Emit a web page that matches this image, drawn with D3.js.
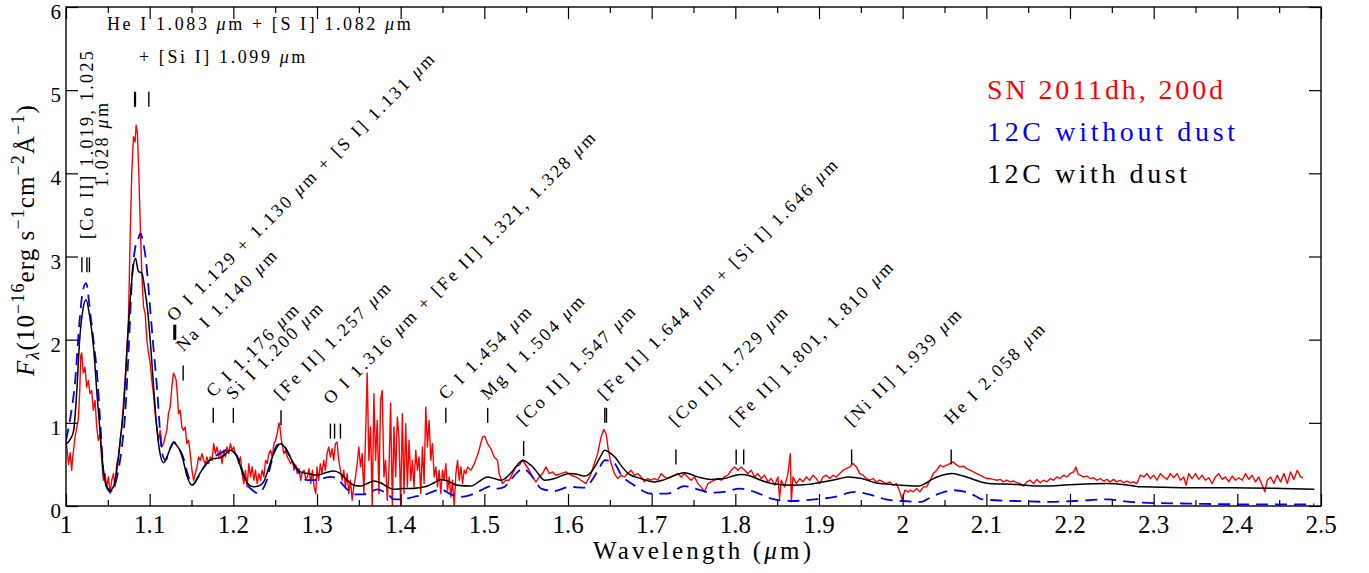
<!DOCTYPE html>
<html><head><meta charset="utf-8">
<script src="https://cdn.jsdelivr.net/npm/d3@7"></script>
<style>body{margin:0;background:#fff}svg{display:block}text{font-family:"Liberation Serif","Times New Roman",serif}</style>
</head><body><svg id="chart" width="1369" height="573"></svg>
<script>
// ---------------- data ----------------
const seriesNames = ["SN 2011dh, 200d", "12C without dust", "12C with dust"];

// SN 2011dh observed spectrum [wavelength (um), flux]
const observedSpectrum = [
[1.000,0.78],[1.002,0.62],[1.003,0.50],[1.005,0.64],[1.0068,0.43],[1.008,0.58],[1.0095,0.72],[1.0108,0.83],[1.013,0.95],[1.0148,1.05],[1.0165,1.40],[1.0176,1.80],[1.0188,1.84],[1.0207,1.60],[1.0227,1.67],[1.0247,1.43],[1.0267,1.51],[1.0287,1.35],[1.0307,1.39],[1.0327,1.15],[1.0347,1.27],[1.0367,0.95],[1.0387,0.79],[1.0407,0.87],[1.0427,0.55],[1.0447,0.31],[1.0467,0.39],[1.0487,0.23],[1.0507,0.35],[1.0527,0.15],[1.0547,0.31],[1.0567,0.39],[1.0587,0.23],[1.0607,0.51],[1.0626,0.59],[1.0646,0.79],[1.0666,0.95],[1.0686,1.23],[1.0706,1.51],[1.0726,1.84],[1.0746,2.24],[1.0766,3.20],[1.0786,4.00],[1.0806,4.44],[1.0826,4.38],[1.0838,4.58],[1.0854,4.48],[1.0870,4.00],[1.0886,3.44],[1.0906,2.80],[1.0926,2.40],[1.0946,2.32],[1.0966,2.00],[1.0986,1.84],[1.1006,1.72],[1.1025,1.51],[1.1045,1.35],[1.1065,1.11],[1.1085,0.95],[1.1105,0.79],[1.1125,0.91],[1.1145,0.71],[1.1165,0.75],[1.1185,0.83],[1.1205,0.91],[1.1225,1.11],[1.1245,1.19],[1.1265,1.43],[1.1285,1.60],[1.1305,1.55],[1.1317,1.51],[1.1333,1.31],[1.1345,1.11],[1.1365,1.15],[1.1385,0.95],[1.1405,0.91],[1.1425,0.95],[1.1445,0.75],[1.1465,0.79],[1.1485,0.63],[1.1505,0.43],[1.1525,0.31],[1.1545,0.39],[1.1565,0.47],[1.1585,0.59],[1.1605,0.55],[1.1625,0.63],[1.1645,0.55],[1.1665,0.51],[1.1685,0.59],[1.1705,0.51],[1.1725,0.59],[1.1745,0.55],[1.1765,0.75],[1.1785,0.63],[1.1805,0.71],[1.1825,0.59],[1.1845,0.67],[1.1865,0.51],[1.1885,0.67],[1.1905,0.59],[1.1925,0.71],[1.1945,0.63],[1.1965,0.75],[1.1985,0.67],[1.2005,0.71],[1.2025,0.63],[1.2045,0.59],[1.2065,0.51],[1.2085,0.59],[1.2105,0.39],[1.2125,0.27],[1.2145,0.43],[1.2165,0.23],[1.2185,0.51],[1.2205,0.35],[1.2225,0.47],[1.2245,0.31],[1.2265,0.43],[1.2285,0.27],[1.2305,0.39],[1.2325,0.31],[1.2345,0.43],[1.2365,0.35],[1.2385,0.55],[1.2405,0.51],[1.2425,0.63],[1.2445,0.67],[1.2465,0.59],[1.2485,0.75],[1.2505,0.79],[1.2525,0.87],[1.2545,1.00],[1.2557,0.95],[1.2573,0.80],[1.2589,0.71],[1.2605,0.63],[1.2625,0.67],[1.2645,0.59],[1.2665,0.55],[1.2685,0.51],[1.2705,0.55],[1.2725,0.43],[1.2745,0.49],[1.2765,0.39],[1.2785,0.45],[1.2805,0.31],[1.2825,0.41],[1.2845,0.43],[1.2865,0.33],[1.2885,0.35],[1.2905,0.45],[1.2925,0.27],[1.2945,0.43],[1.2965,0.23],[1.2985,0.15],
[1.300,0.47],[1.302,0.31],[1.304,0.51],[1.306,0.39],[1.308,0.55],[1.310,0.43],[1.312,0.63],[1.314,0.71],[1.316,0.59],[1.318,0.69],[1.320,0.55],[1.322,0.75],[1.324,0.77],[1.326,0.55],[1.328,0.43],[1.330,0.31],[1.332,0.43],[1.334,0.23],[1.336,0.39],[1.338,0.15],[1.340,0.31],[1.342,0.07],[1.344,0.23],[1.346,0.35],[1.348,0.51],[1.350,0.71],[1.352,0.47],[1.354,0.63],[1.356,0.15],[1.358,0.83],[1.360,1.60],[1.362,0.55],[1.364,0.95],[1.366,0.00],[1.368,1.35],[1.370,0.55],[1.372,1.03],[1.374,0.15],[1.376,1.27],[1.378,1.39],[1.380,0.35],[1.382,0.55],[1.384,0.07],[1.386,0.43],[1.388,1.24],[1.390,0.00],[1.392,0.95],[1.394,0.35],[1.396,1.07],[1.398,0.83],[1.400,0.00],[1.402,1.11],[1.404,0.15],[1.406,0.99],[1.408,0.23],[1.410,0.79],[1.412,0.31],[1.414,0.55],[1.416,0.23],[1.418,0.67],[1.420,0.43],[1.422,0.59],[1.424,0.15],[1.426,0.71],[1.428,0.27],[1.430,1.19],[1.432,0.71],[1.434,1.03],[1.436,0.55],[1.438,0.75],[1.440,0.35],[1.442,0.47],[1.444,0.23],[1.446,0.43],[1.448,0.15],[1.450,0.43],[1.452,0.31],[1.454,0.51],[1.456,0.19],[1.458,0.35],[1.460,0.11],[1.462,0.31],[1.464,0.00],[1.466,0.39],[1.468,0.55],[1.470,0.31],[1.472,0.47],[1.474,0.27],[1.476,0.43],[1.478,0.39],[1.480,0.47],[1.484,0.43],[1.488,0.51],
[1.4925,0.63],[1.4978,0.83],[1.5006,0.84],[1.5038,0.75],[1.5078,0.69],[1.5118,0.59],[1.5157,0.55],[1.5177,0.39],[1.5217,0.27],[1.5257,0.31],[1.5297,0.31],[1.5337,0.39],[1.5377,0.47],[1.5417,0.49],[1.5457,0.55],[1.5497,0.49],[1.5537,0.43],[1.5577,0.35],[1.5617,0.29],[1.5657,0.35],[1.5696,0.39],[1.5736,0.47],[1.5776,0.39],[1.5816,0.41],[1.5856,0.37],[1.5916,0.39],[1.5976,0.41],[1.6035,0.37],[1.6095,0.35],[1.6155,0.31],[1.6215,0.27],[1.6255,0.35],
[1.6275,0.39],[1.6315,0.51],[1.6355,0.63],[1.6395,0.83],[1.6427,0.92],[1.6455,0.87],[1.6483,0.67],[1.6515,0.51],[1.6555,0.39],[1.6595,0.33],[1.6634,0.37],[1.6674,0.35],[1.6714,0.39],[1.6754,0.43],[1.6794,0.37],[1.6834,0.39],[1.6874,0.35],[1.6914,0.29],[1.6953,0.33],[1.6993,0.31],[1.7033,0.33],[1.7073,0.31],[1.7113,0.39],[1.7153,0.35],[1.7193,0.33],[1.7233,0.35],[1.7273,0.37],[1.7313,0.39],[1.7352,0.35],[1.7392,0.39],[1.7432,0.35],[1.7472,0.31],[1.7512,0.35],[1.7552,0.27],[1.7592,0.23],[1.7632,0.17],[1.7672,0.27],[1.7711,0.29],[1.7751,0.31],[1.7791,0.33],[1.7831,0.31],[1.7871,0.35],[1.7911,0.37],[1.7951,0.43],[1.7991,0.47],[1.8031,0.43],[1.8071,0.47],[1.8111,0.43],[1.8150,0.39],[1.8190,0.43],[1.8230,0.35],[1.8270,0.39],[1.8310,0.33],[1.8350,0.37],[1.8390,0.29],[1.8430,0.33],[1.8470,0.25],[1.8509,0.35],[1.8529,0.09],[1.8549,0.31],[1.8589,0.23],[1.8629,0.39],[1.8657,0.63],[1.8669,0.05],[1.8689,0.35],[1.8729,0.27],[1.8769,0.33],[1.8809,0.29],[1.8849,0.35],[1.8889,0.31],[1.8929,0.37],[1.8968,0.33],[1.9008,0.27],[1.9048,0.35],[1.9088,0.37],[1.9128,0.33],[1.9168,0.37],[1.9208,0.35],[1.9248,0.39],[1.9288,0.43],[1.9327,0.45],[1.9367,0.47],[1.9407,0.51],[1.9447,0.47],[1.9487,0.39],[1.9527,0.37],[1.9567,0.33],[1.9607,0.31],[1.9647,0.33],[1.9686,0.29],[1.9726,0.31],[1.9766,0.29],[1.9806,0.27],[1.9846,0.29],[1.9886,0.25],[1.9926,0.27],[1.9966,0.17],[1.9994,0.07],[2.0026,0.19],[2.0066,0.17],
[2.0088,0.19],[2.0127,0.17],[2.0167,0.21],[2.0207,0.17],[2.0247,0.23],[2.0287,0.23],[2.0327,0.31],[2.0367,0.39],[2.0407,0.43],[2.0447,0.49],[2.0486,0.47],[2.0526,0.49],[2.0566,0.51],[2.0606,0.53],[2.0646,0.49],[2.0686,0.47],[2.0726,0.48],[2.0766,0.45],[2.0806,0.43],[2.0846,0.41],[2.0886,0.39],[2.0926,0.37],[2.0965,0.35],[2.1005,0.33],[2.1045,0.33],[2.1085,0.32],[2.1125,0.31],[2.1165,0.32],[2.1205,0.29],[2.1245,0.31],[2.1285,0.29],[2.1325,0.30],[2.1364,0.28],[2.1404,0.27],[2.1444,0.24],[2.1484,0.29],[2.1524,0.31],[2.1564,0.27],[2.1604,0.32],[2.1644,0.28],[2.1683,0.31],[2.1723,0.29],[2.1763,0.33],[2.1803,0.31],[2.1843,0.35],[2.1883,0.33],[2.1923,0.37],[2.1963,0.35],[2.2003,0.39],[2.2043,0.41],[2.2071,0.47],[2.2094,0.39],[2.2122,0.37],[2.2162,0.35],[2.2202,0.36],[2.2242,0.33],[2.2282,0.34],[2.2322,0.31],[2.2362,0.33],[2.2402,0.30],[2.2441,0.32],[2.2481,0.29],[2.2521,0.32],[2.2561,0.29],[2.2601,0.31],[2.2641,0.28],[2.2681,0.30],[2.2721,0.28],[2.2761,0.29],[2.2801,0.27],[2.2841,0.37],[2.2881,0.35],[2.2920,0.39],[2.2960,0.33],[2.3000,0.37],[2.3040,0.31],[2.3080,0.39],[2.3120,0.35],[2.3160,0.32],[2.3200,0.39],[2.3240,0.34],[2.3280,0.39],[2.3319,0.31],[2.3359,0.35],[2.3387,0.25],[2.3419,0.39],[2.3459,0.33],[2.3499,0.39],[2.3539,0.32],[2.3579,0.37],[2.3619,0.31],[2.3659,0.34],[2.3699,0.27],[2.3738,0.35],[2.3778,0.39],[2.3818,0.32],[2.3858,0.35],[2.3898,0.29],[2.3938,0.36],[2.3978,0.31],[2.4018,0.34],[2.4058,0.31],[2.4098,0.39],[2.4137,0.32],[2.4177,0.37],[2.4217,0.29],[2.4257,0.35],[2.4297,0.25],[2.4329,0.17],[2.4357,0.31],[2.4397,0.35],[2.4437,0.27],[2.4477,0.37],[2.4517,0.29],[2.4557,0.39],[2.4597,0.27],[2.4636,0.41],[2.4676,0.32],[2.4716,0.43],[2.4756,0.35],[2.4784,0.34]
];

// 12C model without dust [wavelength, flux]
const modelNoDust = [
[1.000,0.79],[1.005,1.05],[1.011,1.51],[1.016,2.20],[1.020,2.58],[1.024,2.68],[1.029,2.32],[1.033,1.98],[1.037,1.60],[1.041,1.00],[1.045,0.39],[1.049,0.22],[1.053,0.17],[1.057,0.22],[1.061,0.35],[1.066,0.65],[1.071,1.15],[1.075,1.90],[1.079,2.76],[1.083,3.12],[1.086,3.20],[1.089,3.28],[1.092,3.18],[1.095,3.00],[1.098,2.70],[1.101,2.32],[1.105,1.85],[1.109,1.39],[1.112,0.95],[1.115,0.63],[1.119,0.55],[1.124,0.68],[1.129,0.77],[1.134,0.70],[1.140,0.59],[1.145,0.40],[1.151,0.25],[1.158,0.35],[1.168,0.51],[1.180,0.61],[1.187,0.65],[1.194,0.68],[1.199,0.66],[1.204,0.61],[1.210,0.45],[1.216,0.27],[1.223,0.19],[1.230,0.15],[1.235,0.20],[1.240,0.31],[1.246,0.55],[1.252,0.73],[1.258,0.75],[1.265,0.65],[1.272,0.51],[1.280,0.38],[1.288,0.31],[1.296,0.31],[1.306,0.33],[1.316,0.35],[1.322,0.34],[1.328,0.29],[1.336,0.20],[1.344,0.14],[1.356,0.14],[1.364,0.17],[1.372,0.20],[1.378,0.18],[1.384,0.15],[1.392,0.08],[1.400,0.08],[1.416,0.11],[1.430,0.14],[1.440,0.18],[1.448,0.20],[1.460,0.14],[1.472,0.11],[1.488,0.15],[1.500,0.21],[1.508,0.24],[1.516,0.21],[1.524,0.23],[1.532,0.32],[1.540,0.41],[1.546,0.45],[1.556,0.37],[1.562,0.28],[1.568,0.21],[1.584,0.18],[1.602,0.23],[1.620,0.22],[1.628,0.30],[1.636,0.43],[1.644,0.55],[1.654,0.53],[1.664,0.37],[1.679,0.25],[1.699,0.15],[1.719,0.15],[1.739,0.24],[1.755,0.20],[1.771,0.16],[1.787,0.17],[1.805,0.21],[1.823,0.17],[1.843,0.09],[1.867,0.06],[1.895,0.08],[1.919,0.11],[1.943,0.17],[1.963,0.13],[1.980,0.08],[1.999,0.06],[2.023,0.05],[2.031,0.09],[2.039,0.13],[2.050,0.17],[2.059,0.19],[2.075,0.17],[2.087,0.12],[2.095,0.08],[2.135,0.06],[2.175,0.05],[2.206,0.06],[2.246,0.08],[2.262,0.06],[2.286,0.04],[2.334,0.03],[2.414,0.02],[2.492,0.02]
];

// 12C model with dust [wavelength, flux]
const modelDust = [
[1.000,0.74],[1.005,0.80],[1.009,0.90],[1.013,1.40],[1.016,1.95],[1.020,2.35],[1.024,2.48],[1.028,2.30],[1.033,1.90],[1.037,1.35],[1.041,0.85],[1.045,0.40],[1.049,0.22],[1.053,0.19],[1.057,0.24],[1.061,0.45],[1.065,0.80],[1.069,1.20],[1.073,1.90],[1.077,2.52],[1.080,2.85],[1.083,2.98],[1.0866,2.82],[1.0906,2.80],[1.094,2.62],[1.0976,2.35],[1.101,1.95],[1.1046,1.45],[1.108,1.00],[1.1126,0.62],[1.1166,0.52],[1.121,0.60],[1.125,0.70],[1.1286,0.76],[1.133,0.72],[1.1366,0.66],[1.140,0.55],[1.1446,0.36],[1.1506,0.25],[1.155,0.30],[1.1605,0.40],[1.1685,0.52],[1.1765,0.57],[1.1844,0.58],[1.190,0.62],[1.1964,0.67],[1.2044,0.59],[1.2124,0.36],[1.218,0.26],[1.2243,0.23],[1.2303,0.24],[1.2363,0.29],[1.242,0.45],[1.2483,0.63],[1.2563,0.75],[1.262,0.70],[1.2683,0.58],[1.274,0.48],[1.2802,0.41],[1.290,0.39],[1.300,0.37],[1.310,0.40],[1.320,0.42],[1.328,0.39],[1.336,0.31],[1.344,0.25],[1.352,0.24],[1.360,0.27],[1.368,0.30],[1.376,0.28],[1.384,0.23],[1.392,0.20],[1.402,0.21],[1.412,0.21],[1.422,0.22],[1.432,0.24],[1.440,0.28],[1.448,0.32],[1.456,0.30],[1.468,0.25],[1.484,0.24],[1.496,0.31],[1.504,0.35],[1.512,0.33],[1.520,0.31],[1.532,0.40],[1.540,0.50],[1.546,0.55],[1.552,0.52],[1.558,0.47],[1.565,0.38],[1.572,0.31],[1.584,0.33],[1.594,0.37],[1.602,0.39],[1.612,0.38],[1.620,0.36],[1.627,0.40],[1.632,0.47],[1.638,0.58],[1.644,0.67],[1.650,0.64],[1.656,0.59],[1.664,0.48],[1.672,0.39],[1.687,0.33],[1.703,0.29],[1.713,0.31],[1.723,0.35],[1.739,0.40],[1.755,0.35],[1.771,0.32],[1.787,0.33],[1.797,0.36],[1.807,0.38],[1.815,0.37],[1.823,0.34],[1.843,0.27],[1.867,0.25],[1.887,0.26],[1.911,0.30],[1.925,0.33],[1.935,0.35],[1.951,0.33],[1.967,0.28],[1.985,0.26],[1.999,0.25],[2.019,0.24],[2.027,0.27],[2.035,0.32],[2.047,0.37],[2.059,0.39],[2.069,0.37],[2.079,0.34],[2.090,0.30],[2.103,0.27],[2.135,0.26],[2.166,0.24],[2.206,0.26],[2.246,0.27],[2.270,0.25],[2.286,0.23],[2.334,0.22],[2.394,0.22],[2.454,0.21],[2.492,0.20]
];

const xMajorTicks = [1,1.1,1.2,1.3,1.4,1.5,1.6,1.7,1.8,1.9,2,2.1,2.2,2.3,2.4,2.5];
const xMinorTicks = [1.05,1.15,1.25,1.35,1.45,1.55,1.65,1.75,1.85,1.95,2.05,2.15,2.25,2.35,2.45];
const xTickLabels = ["1","1.1","1.2","1.3","1.4","1.5","1.6","1.7","1.8","1.9","2","2.1","2.2","2.3","2.4","2.5"];
const yTicks = [0,1,2,3,4,5,6];
const yTickLabels = ["0","1","2","3","4","5","6"];

// line identifications: label, line wavelengths, flux level of marker, flux level of label start
const lineIds = [
 {label:"O I 1.129 + 1.130 μm + [S I] 1.131 μm", lines:[1.129,1.130,1.131], mark:2.00, at:2.21},
 {label:"Na I 1.140 μm", lines:[1.140], mark:1.51, at:1.85},
 {label:"C I 1.176 μm", lines:[1.176], mark:1.00, at:1.30},
 {label:"Si I 1.200 μm", lines:[1.200], mark:1.00, at:1.27},
 {label:"[Fe II] 1.257 μm", lines:[1.257], mark:0.97, at:1.27},
 {label:"O I 1.316 μm + [Fe II] 1.321, 1.328 μm", lines:[1.316,1.321,1.328], mark:0.81, at:1.21},
 {label:"C I 1.454 μm", lines:[1.454], mark:1.00, at:1.27},
 {label:"Mg I 1.504 μm", lines:[1.504], mark:1.00, at:1.27},
 {label:"[Co II] 1.547 μm", lines:[1.547], mark:0.60, at:0.96},
 {label:"[Fe II] 1.644 μm + [Si I] 1.646 μm", lines:[1.644,1.646], mark:1.00, at:1.27},
 {label:"[Co II] 1.729 μm", lines:[1.729], mark:0.50, at:0.95},
 {label:"[Fe II] 1.801, 1.810 μm", lines:[1.801,1.810], mark:0.50, at:0.95},
 {label:"[Ni II] 1.939 μm", lines:[1.939], mark:0.50, at:0.95},
 {label:"He I 2.058 μm", lines:[2.058], mark:0.50, at:0.97}
];
const coLines = [1.019,1.025,1.028];
const coLabel = ["[Co II] 1.019, 1.025", "1.028 μm"];
const heLines = [1.082,1.083,1.099];
const heLabel = ["He I 1.083 μm + [S I] 1.082 μm", "+ [Si I] 1.099 μm"];
const coMark = 2.81, heMark = 4.80;

// ---------------- drawing ----------------
const svg = d3.select("#chart");
const L = 66, R = 1321, T = 7, B = 506;
const x = d3.scaleLinear().domain([1, 2.5]).range([L, R]);
const y = d3.scaleLinear().domain([0, 6]).range([B, T]);

svg.append("rect").attr("width",1369).attr("height",573).attr("fill","#fff");
svg.append("clipPath").attr("id","clip").append("rect")
  .attr("x",L).attr("y",T).attr("width",R-L).attr("height",B-T);

const line = d3.line().x(d => x(d[0])).y(d => y(d[1]));
const g = svg.append("g").attr("clip-path","url(#clip)");
g.append("path").datum(observedSpectrum).attr("d",line)
  .attr("fill","none").attr("stroke","#ff0000").attr("stroke-width",1.4).attr("stroke-linejoin","round");
g.append("path").datum(modelNoDust).attr("d",line.curve(d3.curveMonotoneX))
  .attr("fill","none").attr("stroke","#0000ff").attr("stroke-width",1.8).attr("stroke-dasharray","12,7");
g.append("path").datum(modelDust).attr("d",line.curve(d3.curveMonotoneX))
  .attr("fill","none").attr("stroke","#000").attr("stroke-width",1.5);

// axes (ticks inward)
function styleAxis(sel){ sel.selectAll(".domain").remove(); sel.selectAll("line").attr("stroke","#000").attr("stroke-width",1.2); }
svg.append("g").attr("transform",`translate(0,${B})`)
  .call(d3.axisBottom(x).tickValues(xMajorTicks).tickSize(-12).tickFormat("")).call(styleAxis);
svg.append("g").attr("transform",`translate(0,${B})`)
  .call(d3.axisBottom(x).tickValues(xMinorTicks).tickSize(-6).tickFormat("")).call(styleAxis);
svg.append("g").attr("transform",`translate(0,${T})`)
  .call(d3.axisTop(x).tickValues(xMajorTicks).tickSize(-12).tickFormat("")).call(styleAxis);
svg.append("g").attr("transform",`translate(0,${T})`)
  .call(d3.axisTop(x).tickValues(xMinorTicks).tickSize(-6).tickFormat("")).call(styleAxis);
svg.append("g").attr("transform",`translate(${L},0)`)
  .call(d3.axisLeft(y).tickValues(yTicks).tickSize(-12).tickFormat("")).call(styleAxis);
svg.append("g").attr("transform",`translate(${R},0)`)
  .call(d3.axisRight(y).tickValues(yTicks).tickSize(-12).tickFormat("")).call(styleAxis);
svg.append("rect").attr("x",L).attr("y",T).attr("width",R-L).attr("height",B-T)
  .attr("fill","none").attr("stroke","#000").attr("stroke-width",1.4);

// tick labels
svg.append("g").selectAll("text").data(xMajorTicks).join("text")
  .attr("x",d => x(d)).attr("y",B+27).attr("text-anchor","middle").attr("font-size",25)
  .text((d,i) => xTickLabels[i]);
svg.append("g").selectAll("text").data(yTicks).join("text")
  .attr("x",L-5).attr("y",d => y(d)+12).attr("text-anchor","end").attr("font-size",21)
  .text((d,i) => yTickLabels[i]);

// axis titles
const xt = svg.append("text").attr("x",702).attr("y",559).attr("text-anchor","middle").attr("font-size",25)
  .attr("textLength",218).attr("lengthAdjust","spacing");
xt.append("tspan").text("Wavelength (");
xt.append("tspan").attr("font-style","italic").text("μ");
xt.append("tspan").text("m)");

const yl = svg.append("text").attr("transform","translate(34,240) rotate(-90)")
  .attr("text-anchor","middle").attr("font-size",25).attr("letter-spacing",1.1);
yl.append("tspan").attr("font-style","italic").text("F");
yl.append("tspan").attr("font-size",18).attr("font-style","italic").attr("dy",5).text("λ");
yl.append("tspan").attr("dy",-5).text("(10");
yl.append("tspan").attr("font-size",18).attr("dy",-10).text("−16");
yl.append("tspan").attr("dy",10).text("erg s");
yl.append("tspan").attr("font-size",18).attr("dy",-10).text("−1");
yl.append("tspan").attr("dy",10).text("cm");
yl.append("tspan").attr("font-size",18).attr("dy",-10).text("−2");
yl.append("tspan").attr("dy",10).text("Å");
yl.append("tspan").attr("font-size",18).attr("dy",-10).text("−1");
yl.append("tspan").attr("dy",10).text(")");

// legend
const legendColors = ["#ff0000","#0000ff","#000000"];
const legendWidths = [236,248,200];
svg.append("g").selectAll("text").data(seriesNames).join("text")
  .attr("x",987).attr("y",(d,i) => 99 + i*42).attr("font-size",28)
  .attr("fill",(d,i) => legendColors[i])
  .attr("textLength",(d,i) => legendWidths[i]).attr("lengthAdjust","spacing")
  .text(d => d);

// annotation helpers
function addLabel(sel, str){
  const parts = str.split("μ");
  parts.forEach((p,i) => {
    if (p) sel.append("tspan").text(p);
    if (i < parts.length-1) sel.append("tspan").attr("font-style","italic").text("μ");
  });
  return sel;
}
const ann = svg.append("g").attr("fill","#000");
const markLen = 15;
function marks(lines, level){
  ann.append("g").selectAll("line").data(lines).join("line")
    .attr("x1",d => x(d)).attr("x2",d => x(d))
    .attr("y1",y(level)).attr("y2",y(level)-markLen)
    .attr("stroke","#000").attr("stroke-width",1.4);
}
lineIds.forEach(a => {
  marks(a.lines, a.mark);
  const t = ann.append("text")
    .attr("transform",`translate(${x(a.lines[0])},${y(a.at)}) rotate(-45)`)
    .attr("font-size",18).attr("letter-spacing",2.5);
  addLabel(t, a.label);
});
marks(coLines, coMark);
coLabel.forEach((s,i) => {
  const t = ann.append("text")
    .attr("transform",`translate(${93 + i*15},144) rotate(-90)`)
    .attr("text-anchor","middle").attr("font-size",18).attr("letter-spacing",2.3);
  addLabel(t, s);
});
marks(heLines, heMark);
heLabel.forEach((s,i) => {
  const t = ann.append("text").attr("x", i ? 139 : 107).attr("y", i ? 63 : 30)
    .attr("font-size",18).attr("letter-spacing",2.6);
  addLabel(t, s);
});
</script></body></html>
